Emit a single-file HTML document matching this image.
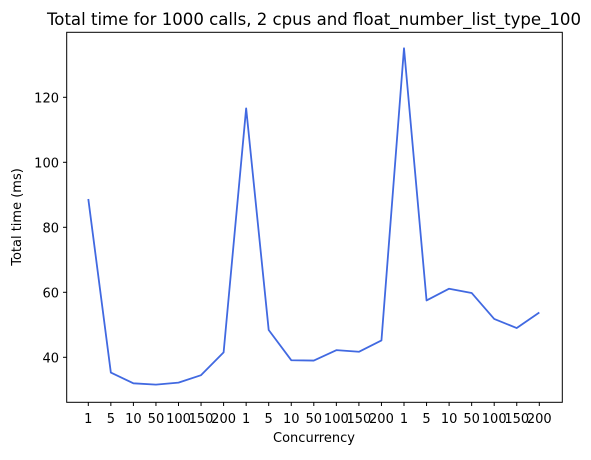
<!DOCTYPE html>
<html><head><meta charset="utf-8"><style>
body{margin:0;background:#fff;}
svg text{font-family:"DejaVu Sans","Liberation Sans",sans-serif;fill:#000;}
</style></head><body>
<svg id="chart" width="591" height="455" xmlns="http://www.w3.org/2000/svg">
<rect width="591" height="455" fill="#fff"/>
<text x="314" y="25" font-size="16.7" text-anchor="middle" textLength="534" lengthAdjust="spacingAndGlyphs">Total time for 1000 calls, 2 cpus and float_number_list_type_100</text>
<g id="plot"></g>
<rect x="66.7" y="32.3" width="495.6" height="370" fill="none" stroke="#000" stroke-width="1"/>
<text x="314" y="442" font-size="13" text-anchor="middle">Concurrency</text>
<text transform="translate(21,217) rotate(-90)" font-size="13" text-anchor="middle">Total time (ms)</text>
</svg>
<script>
const categories=["1","5","10","50","100","150","200","1","5","10","50","100","150","200","1","5","10","50","100","150","200"];
const values=[88.7,35.3,32.0,31.6,32.2,34.5,41.5,116.6,48.4,39.1,39.0,42.2,41.7,45.2,135.1,57.5,61.1,59.8,51.8,49.0,53.8];
const yTicks=[40,60,80,100,120];
const NS="http://www.w3.org/2000/svg";
const g=document.getElementById('plot');
function xs(i){return 88.3+i*(539.3-88.3)/(categories.length-1);}
function ys(v){return 357.3-(v-40)*3.25;}
function mk(t,a){const e=document.createElementNS(NS,t);for(const k in a)e.setAttribute(k,a[k]);g.appendChild(e);return e;}
categories.forEach((c,i)=>{
  const t=mk('line',{x1:xs(i),x2:xs(i),y1:402.3,y2:406,stroke:'#000'});
  
  
  const l=mk('text',{x:xs(i),y:423,'font-size':13,'text-anchor':'middle'});
  l.textContent=c;
  
  
});
yTicks.forEach(v=>{
  const t=mk('line',{x1:63,x2:66.7,y1:ys(v),y2:ys(v),stroke:'#000'});
  
  
  const l=mk('text',{x:59,y:ys(v)+5,'font-size':13,'text-anchor':'end'});
  l.textContent=v;
  
  
});
const p=mk('polyline',{points:values.map((v,i)=>xs(i)+','+ys(v)).join(' '),fill:'none',stroke:'#4169e1','stroke-width':1.8,'stroke-linejoin':'round'});


</script>
</body></html>
